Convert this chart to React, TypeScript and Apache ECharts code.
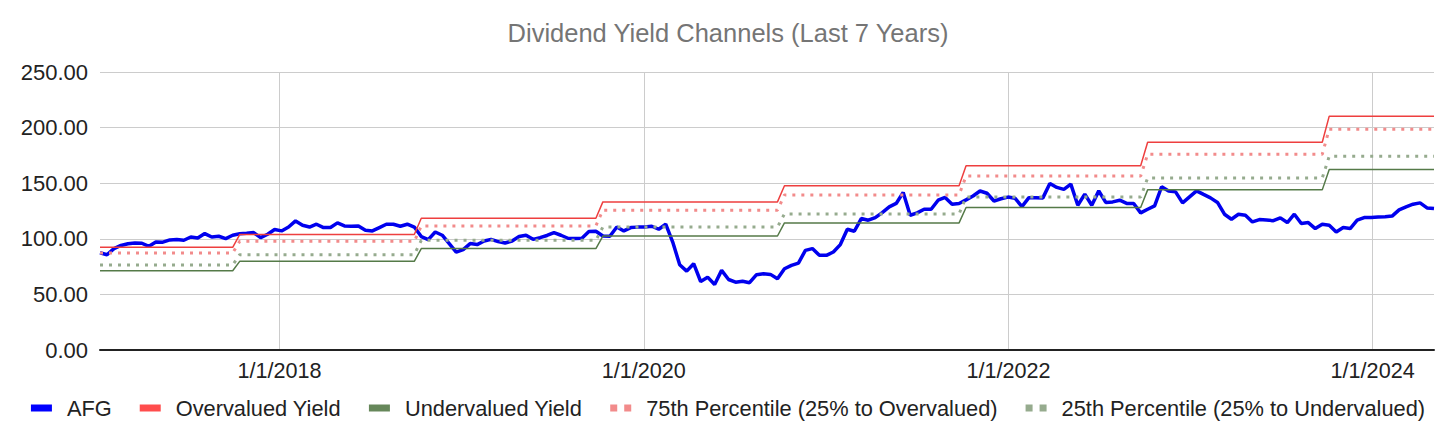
import React, { useEffect, useRef } from "react";
import * as echarts from "echarts";

const START_DATE = Date.UTC(2017, 0, 6);
const STEP_DAYS = 14;

const afgValues = [
  87.5, 85.7, 91.2, 94, 95.5, 96.3, 96, 93.2, 97.1, 97,
  99, 99.3, 98.7, 101.6, 100.7, 104.7, 101.6, 102.3, 100.2, 103.2,
  104.5, 105, 105.6, 101.1, 104.1, 108.3, 107.1, 110.6, 116.1, 112.2,
  110.6, 113.1, 110.1, 110.1, 114.3, 111.6, 111.3, 111.6, 107.7, 107.1,
  110.1, 113.1, 113.1, 111.3, 113.1, 110.6, 102, 99.3, 106.1, 103.2,
  95.7, 88.1, 90.3, 95.7, 94.8, 98, 99.5, 97.5, 96.2, 98,
  102, 103.2, 99.5, 101, 103, 105.6, 103.2, 100.5, 100.2, 100.5,
  106.5, 106.8, 102.5, 102.3, 110.6, 107.1, 110.1, 110.5, 110.6, 111.3,
  108.6, 113.1, 97.1, 76.7, 70.9, 77.6, 61.6, 65.5, 58.9, 71.6,
  63.4, 61, 61.9, 60.5, 67.7, 68.6, 68, 64.1, 73.1, 76.1,
  78.2, 89.6, 91.2, 85.1, 85.1, 88.1, 94.8, 108.6, 106.8, 118.2,
  116.7, 119.1, 123.6, 128.7, 131.8, 141.7, 121.2, 123.3, 126.6, 126.6,
  134.7, 137.2, 131.1, 131.8, 135, 138.5, 143, 141, 134, 136,
  137.5, 136.5, 129, 137, 137, 136.8, 149.8, 146.2, 144.4, 149.2,
  130.2, 140.2, 130.2, 143.1, 132.7, 133.2, 134.7, 131.8, 131.8, 123.3,
  126.6, 129.6, 146.8, 142.9, 142.2, 132.3, 137.7, 143.1, 139.9, 136.8,
  132.7, 122.1, 117.6, 122.1, 121.2, 115.2, 117.3, 116.8, 116.3, 118.8,
  114.6, 122.1, 113.7, 114.6, 109.2, 113.1, 112.2, 106.1, 110.1, 109.2,
  116.7, 119.1, 119.1, 119.5, 119.9, 120.4, 126, 128.7, 131.1, 132.3,
  127.8, 127.3,
];

const channelChangeIndex = [20, 46, 72, 98, 124, 150, 176];
const overvaluedYield = [92.3, 103.8, 118.5, 133.2, 147.7, 165.7, 186.8, 210.3];
const pct75Yield = [87.2, 97.7, 111.6, 125.7, 139.5, 156.4, 176.0, 198.6];
const pct25Yield = [76.4, 85.7, 98.6, 110.6, 122.4, 137.5, 154.6, 174.2];
const undervaluedYield = [71.3, 79.7, 91.2, 102.5, 114.3, 128.2, 144.0, 162.4];

const xLabelDates = [
  Date.UTC(2018, 0, 1),
  Date.UTC(2020, 0, 1),
  Date.UTC(2022, 0, 1),
  Date.UTC(2024, 0, 1),
];

const seriesNames = [
  "AFG",
  "Overvalued Yield",
  "Undervalued Yield",
  "75th Percentile (25% to Overvalued)",
  "25th Percentile (25% to Undervalued)",
];

const FONT = "'Liberation Sans', Arial, sans-serif";
const DAY = 86400000;

export default function App() {
  const ref = useRef<HTMLDivElement>(null);

  useEffect(() => {
    document.body.style.margin = "0";
    if (!ref.current) return;
    const chart = echarts.init(ref.current, undefined, { renderer: "svg" });

    const dates = afgValues.map((_, i) => START_DATE + i * STEP_DAYS * DAY);
    const segOf = (i: number) =>
      channelChangeIndex.filter((c) => i >= c).length;
    const channel = (arr: number[]) =>
      dates.map((d, i) => [d, arr[segOf(i)]]);

    const afg = dates.map((d, i) => [d, afgValues[i]]);

    const twoSquares = "path://M0,0h7v7h-7z M14,0h7v7h-7z";

    chart.setOption({
      animation: false,
      backgroundColor: "#ffffff",
      textStyle: { fontFamily: FONT },
      title: {
        text: "Dividend Yield Channels (Last 7 Years)",
        left: "center",
        top: 15,
        textStyle: {
          fontFamily: FONT,
          fontSize: 25.5,
          fontWeight: "normal",
          color: "#757575",
        },
      },
      legend: {
        left: "center",
        top: 392,
        itemWidth: 21,
        itemHeight: 7,
        itemGap: 28,
        textStyle: {
          fontFamily: FONT,
          fontSize: 21.8,
          color: "#222222",
          padding: [0, 0, 0, 10],
        },
        data: [
          { name: seriesNames[0], icon: "rect", itemStyle: { color: "#0000ff" } },
          { name: seriesNames[1], icon: "rect", itemStyle: { color: "#ff4d4d" } },
          { name: seriesNames[2], icon: "rect", itemStyle: { color: "#66875a" } },
          { name: seriesNames[3], icon: twoSquares, itemStyle: { color: "#f28b8b" } },
          { name: seriesNames[4], icon: twoSquares, itemStyle: { color: "#96ab8e" } },
        ],
      },
      grid: { left: 100, right: 22, top: 72, bottom: 90 },
      xAxis: {
        type: "value",
        min: dates[0],
        max: dates[dates.length - 1],
        axisLine: { show: true, lineStyle: { color: "#222222", width: 2 } },
        axisTick: { show: false, customValues: xLabelDates },
        splitLine: { show: true, lineStyle: { color: "#cccccc", width: 1 } },
        axisLabel: {
          customValues: xLabelDates,
          margin: 9,
          fontFamily: FONT,
          fontSize: 21.6,
          color: "#222222",
          formatter: (v: number) => {
            const d = new Date(v);
            return `${d.getUTCMonth() + 1}/${d.getUTCDate()}/${d.getUTCFullYear()}`;
          },
        },
      },
      yAxis: {
        type: "value",
        min: 0,
        max: 250,
        interval: 50,
        axisLine: { show: false },
        axisTick: { show: false },
        splitLine: { lineStyle: { color: "#cccccc", width: 1 } },
        axisLabel: {
          margin: 12,
          fontFamily: FONT,
          fontSize: 22,
          color: "#222222",
          formatter: (v: number) => v.toFixed(2),
        },
      },
      series: [
        {
          name: seriesNames[0],
          type: "line",
          data: afg,
          showSymbol: false,
          lineStyle: { color: "#0000ee", width: 3.5 },
          itemStyle: { color: "#0000ff" },
          z: 2,
        },
        {
          name: seriesNames[1],
          type: "line",
          data: channel(overvaluedYield),
          showSymbol: false,
          lineStyle: { color: "#ee3f3f", width: 1.5 },
          itemStyle: { color: "#ff4d4d" },
          z: 3,
        },
        {
          name: seriesNames[2],
          type: "line",
          data: channel(undervaluedYield),
          showSymbol: false,
          lineStyle: { color: "#557a48", width: 1.5 },
          itemStyle: { color: "#66875a" },
          z: 3,
        },
        {
          name: seriesNames[3],
          type: "line",
          data: channel(pct75Yield),
          showSymbol: false,
          lineStyle: { color: "#f28b8b", width: 3, type: [3, 6], cap: "butt" },
          itemStyle: { color: "#f28b8b" },
          z: 3,
        },
        {
          name: seriesNames[4],
          type: "line",
          data: channel(pct25Yield),
          showSymbol: false,
          lineStyle: { color: "#96ab8e", width: 3, type: [3, 6], cap: "butt" },
          itemStyle: { color: "#96ab8e" },
          z: 3,
        },
      ],
    });

    return () => chart.dispose();
  }, []);

  return <div ref={ref} style={{ width: 1456, height: 440 }} />;
}
